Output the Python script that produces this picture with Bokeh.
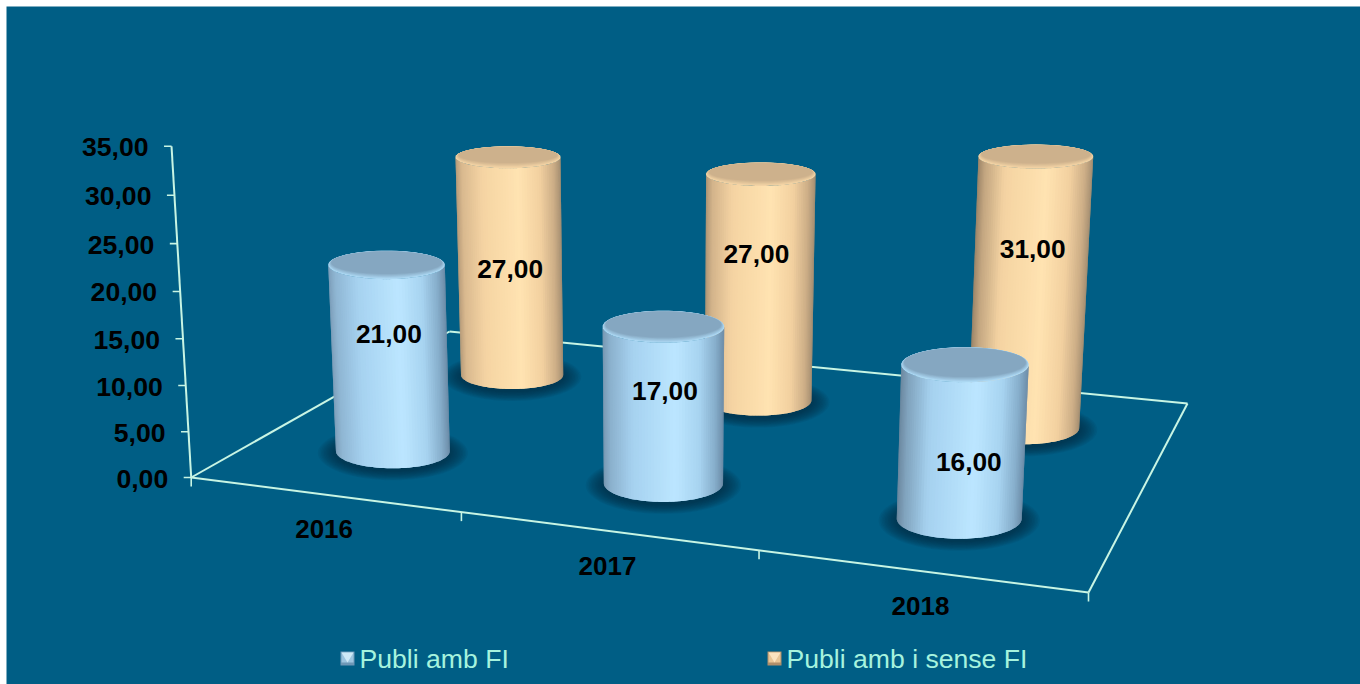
import numpy as np
from bokeh.plotting import figure
from bokeh.models import Range1d
from bokeh.embed import file_html
from bokeh.resources import INLINE
from bokeh.core.properties import value

# ---- data ----
categories = ["2016", "2017", "2018"]
series_names = ["Publi amb FI", "Publi amb i sense FI"]
publi_amb_fi = [21.0, 17.0, 16.0]
publi_amb_i_sense_fi = [27.0, 27.0, 31.0]
y_ticks = [0, 5, 10, 15, 20, 25, 30, 35]
y_tick_labels = ["0,00", "5,00", "10,00", "15,00", "20,00", "25,00", "30,00", "35,00"]

# ---- style ----
BG = "#005E85"
AXIS = "#C8F5E4"
LEG = "#A6F3DE"
FONT = value("Liberation Sans")
BLUE = [(0, "#7E9FBA"), (.06, "#8FB6D3"), (.25, "#A6D2F0"), (.6, "#BCE6FF"), (.8, "#A7D3F0"), (.93, "#86AECB"), (1, "#6C8CA8")]
ORANGE = [(0, "#B89C7A"), (.06, "#D9B98F"), (.25, "#F5D4A3"), (.6, "#FFE3B1"), (.8, "#F2D0A0"), (.93, "#CDAE87"), (1, "#A68F72")]
TOP = ["#85A7C1", "#CDB18C"]
RIM = ["#AEDAF5", "#F5D5A6"]

# ---- projection: unit floor square + value height -> page pixels ----
A, B, C, D = np.array([190.7, 477.]), np.array([1088., 592.]), np.array([1187., 403.]), np.array([449., 331.])
d1, d2, s = B - C, D - C, A - B + C - D
det = d1[0] * d2[1] - d1[1] * d2[0]
g = (s[0] * d2[1] - s[1] * d2[0]) / det
k = (d1[0] * s[1] - d1[1] * s[0]) / det
HA, HB = B - A + g * B, D - A + k * D
UP = np.array([-.757, -9.632])
UPW = -.00114


def project(u, v, h=0.0):
    U = u / 3.0
    w = g * U + k * v + 1 + UPW * h
    q = HA * U + HB * v + A + UP * h
    return q[0] / w, q[1] / w, w


def ell_ratio(y):
    return .21 + (y - 156) * .000318


def hex2rgb(c):
    return np.array([int(c[i:i + 2], 16) for i in (1, 3, 5)], float)


def rgb2hex(a):
    return "#%02X%02X%02X" % tuple(int(round(x)) for x in a)


def ramp(stops, t, dark=0.0):
    xs = [a for a, _ in stops]
    cols = np.array([hex2rgb(c) for _, c in stops])
    rgb = np.array([np.interp(t, xs, cols[:, i]) for i in range(3)])
    return rgb2hex(rgb * (1 - dark * max(0, 1 - t / .22)))


p = figure(width=1354, height=678, x_range=Range1d(6, 1360), y_range=Range1d(684, 6),
           output_backend="svg", toolbar_location=None, min_border=0,
           background_fill_color=BG, border_fill_color=BG, outline_line_color=None,
           styles={"position": "absolute", "left": "6px", "top": "6px"})
p.axis.visible = False
p.grid.visible = False


def seg(a, b, width=2.0):
    p.line([a[0], b[0]], [a[1], b[1]], line_color=AXIS, line_width=width)


# floor
seg(project(0, 0), project(0, 1), 2)
seg(project(0, 1), project(3, 1), 2)
seg(project(3, 1), project(3, 0), 2)
seg(project(3, 0), project(0, 0), 2)
# category ticks
for i in range(4):
    x, y, _ = project(i, 0)
    seg((x, y), (x, y + 9), 1.6)
# value axis
seg(project(0, 0, 0), project(0, 0, y_ticks[-1]), 2)
tx, ty = [], []
for t in y_ticks:
    x, y, _ = project(0, 0, t)
    seg((x, y), (x - 7.5, y), 1.6)
    tx.append(x)
    ty.append(y + 1)
p.text(tx, ty, text=y_tick_labels, x_offset=-23, text_align="right", text_baseline="middle",
       text_color="#000000", text_font=FONT, text_font_style="bold", text_font_size="26.6px")
# category labels
cx = [project(i + .5, 0)[0] for i in range(3)]
cy = [project(i + .5, 0)[1] + 35 for i in range(3)]
p.text(cx, cy, text=categories, x_offset=1, text_align="center", text_baseline="middle", text_color="#000000",
       text_font=FONT, text_font_style="bold", text_font_size="26px")

# cylinders
R = 58.9
U_OFF = [[.506, .507, .504], [.507, .506, .498]]
V_POS = [.245, .75]
H_SCALE = .982
EDGE_DARK = [0.0, .04, .14]
TH = np.linspace(np.pi, 0, 61)
FULL = np.linspace(0, 2 * np.pi, 73)


def ring(cx_, cy_, rx, ry, th=FULL):
    return cx_ + rx * np.cos(th), cy_ + ry * np.sin(th)


def cylinder(i, sidx, val):
    u = i + U_OFF[sidx][i]
    v = V_POS[sidx]
    bx, by, bw = project(u, v, 0)
    tx_, ty_, tw = project(u, v, val * H_SCALE)
    brx, trx = R / bw, R / tw
    bry, try_ = brx * ell_ratio(by), trx * ell_ratio(ty_)
    # soft shadow
    n = 12
    sx, sy = [], []
    for j in range(n):
        e = 1 - j / (n - 1)
        a, b = ring(bx, by + 2, brx + 1 + 17 * e, bry + 1 + 9 * e)
        sx.append(a.tolist()); sy.append(b.tolist())
    p.patches(sx, sy, fill_color="#00273F", fill_alpha=.09, line_color=None)
    # body: painted left to right, each strip overlapping the next one
    stops = [BLUE, ORANGE][sidx]
    xs, ys, cols = [], [], []
    for j in range(len(TH) - 1):
        a0, a1 = TH[j], TH[min(j + 2, len(TH) - 1)]
        arc = np.array([a0, (a0 + a1) / 2, a1])
        x0, y0 = ring(bx, by, brx, bry, arc)
        x1, y1 = ring(tx_, ty_, trx, try_, arc[::-1])
        xs.append(list(x0) + list(x1))
        ys.append(list(y0) + list(y1))
        t = (1 + np.cos((TH[j] + TH[j + 1]) / 2)) / 2
        cols.append(ramp(stops, t, EDGE_DARK[i]))
    p.patches(xs, ys, fill_color=cols, line_color=None)
    # top face with a graded bevel
    rim, top = hex2rgb(RIM[sidx]), hex2rgb(TOP[sidx])
    steps = 7
    for j in range(steps + 1):
        e = j / steps
        col = rgb2hex(rim * (1 - e) + top * e)
        a, b = ring(tx_, ty_ - 2.2 * e, trx - 3 * e, try_ - 3 * e)
        p.patch(a, b, fill_color=col, line_color=None)


for sidx, vals in ((1, publi_amb_i_sense_fi), (0, publi_amb_fi)):
    for i, val in enumerate(vals):
        cylinder(i, sidx, val)

# data labels
LABEL_H = [[13.1, 9.9, 5.8], [13.1, 17.3, 20.3]]
LABEL_DX = [[0, 1.5, 7.5], [0, -3.5, 1]]
lx, ly, lt, ld = [], [], [], []
for sidx, vals in enumerate((publi_amb_fi, publi_amb_i_sense_fi)):
    for i, val in enumerate(vals):
        x, y, _ = project(i + U_OFF[sidx][i], V_POS[sidx], LABEL_H[sidx][i])
        lx.append(x); ly.append(y); ld.append(LABEL_DX[sidx][i])
        lt.append(("%.2f" % val).replace(".", ","))
p.text(lx, ly, text=lt, x_offset=ld, text_align="center", text_baseline="middle", text_color="#000000",
       text_font=FONT, text_font_style="bold", text_font_size="26.3px")

# legend
LEG_X = [340, 767]
LEG_Y = 658
SW = 7
for lxx, name, sidx in zip(LEG_X, series_names, (0, 1)):
    dark, light = ["#6E97B6", "#B08E6A"][sidx], ["#CFE9F7", "#FBE3BF"][sidx]
    mid = ["#9CC4DF", "#E8C596"][sidx]
    p.quad(left=lxx, right=lxx + 2 * SW, top=LEG_Y - SW, bottom=LEG_Y + SW, fill_color=dark, line_color=None)
    p.quad(left=lxx + 1, right=lxx + 2 * SW - 1, top=LEG_Y - SW + 1, bottom=LEG_Y + SW - 3, fill_color=mid, line_color=None)
    p.patch([lxx + 1, lxx + 2 * SW - 1, lxx + SW], [LEG_Y - SW + 1, LEG_Y - SW + 1, LEG_Y + SW - 3], fill_color=light, line_color=None)
    p.text([lxx + 2 * SW + 5], [LEG_Y], text=[name], text_align="left", text_baseline="middle",
           text_color=LEG, text_font=FONT, text_font_size="26.6px")

open("out.html", "w").write(file_html(p, INLINE))
